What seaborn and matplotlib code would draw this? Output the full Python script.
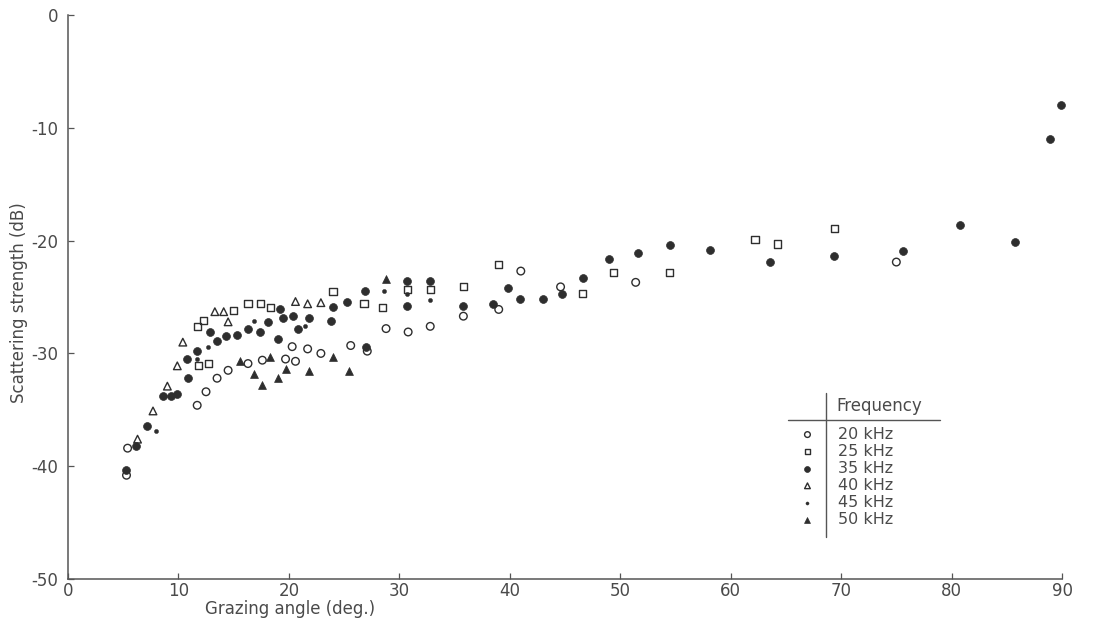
import matplotlib
matplotlib.use("Agg")
import matplotlib.pyplot as plt
from matplotlib.lines import Line2D
import seaborn as sns
import pandas as pd

# ---- data (grazing angle deg, scattering strength dB) ----
f20_x = [5.3, 5.4, 11.7, 12.5, 13.5, 14.5, 16.3, 17.6, 19.7, 20.3, 20.6, 21.7, 22.9,
         25.6, 27.1, 28.8, 30.8, 32.8, 35.8, 39.0, 41.0, 44.6, 51.4, 75.0]
f20_y = [-40.8, -38.4, -34.6, -33.4, -32.2, -31.5, -30.9, -30.6, -30.5, -29.4, -30.7, -29.6, -30.0,
         -29.3, -29.8, -27.8, -28.1, -27.6, -26.7, -26.1, -22.7, -24.1, -23.7, -21.9]

f25_x = [11.7, 12.3, 11.8, 12.7, 15.0, 16.3, 17.4, 18.3, 24.0, 26.8, 28.5, 30.7, 32.8,
         35.8, 39.0, 46.6, 49.4, 54.5, 62.2, 64.2, 69.4]
f25_y = [-27.6, -27.1, -31.1, -30.9, -26.2, -25.6, -25.6, -25.9, -24.5, -25.6, -25.9, -24.3, -24.3,
         -24.1, -22.1, -24.7, -22.8, -22.8, -19.9, -20.3, -18.9]

f35_x = [5.3, 6.2, 7.2, 8.6, 9.3, 9.9, 10.8, 10.9, 11.7, 12.9, 13.5, 14.3, 15.3, 16.3,
         17.4, 18.1, 19.0, 19.2, 19.5, 20.4, 20.8, 21.8, 23.8, 24.0, 25.3, 26.9, 27.0,
         30.7, 30.7, 32.8, 35.8, 38.5, 39.8, 40.9, 43.0, 44.7, 46.6, 49.0, 51.6, 54.5,
         58.1, 63.6, 69.4, 75.6, 80.8, 85.7, 88.9, 89.9]
f35_y = [-40.3, -38.2, -36.4, -33.8, -33.8, -33.6, -30.5, -32.2, -29.8, -28.1, -28.9, -28.5, -28.4, -27.8,
         -28.1, -27.2, -28.7, -26.1, -26.9, -26.7, -27.8, -26.9, -27.1, -25.9, -25.4, -24.5, -29.4,
         -23.6, -25.8, -23.6, -25.8, -25.6, -24.2, -25.2, -25.2, -24.7, -23.3, -21.6, -21.1, -20.4,
         -20.8, -21.9, -21.4, -20.9, -18.6, -20.1, -11.0, -8.0]

f40_x = [6.3, 7.7, 9.0, 9.9, 10.4, 13.3, 14.1, 14.5, 20.6, 21.7, 22.9]
f40_y = [-37.6, -35.1, -32.9, -31.1, -29.0, -26.3, -26.3, -27.2, -25.4, -25.6, -25.5]

f45_x = [8.0, 11.7, 12.7, 16.8, 21.5, 23.9, 28.6, 30.7, 32.8]
f45_y = [-36.9, -30.5, -29.4, -27.1, -27.6, -27.1, -24.5, -24.7, -25.3]

f50_x = [15.6, 16.8, 17.6, 18.3, 19.0, 19.7, 21.8, 24.0, 25.4, 28.8]
f50_y = [-30.7, -31.8, -32.8, -30.3, -32.2, -31.4, -31.6, -30.3, -31.6, -23.4]

labels = ["20 kHz", "25 kHz", "35 kHz", "40 kHz", "45 kHz", "50 kHz"]
xticks = [0, 10, 20, 30, 40, 50, 60, 70, 80, 90]
yticks = [0, -10, -20, -30, -40, -50]

series = [(f20_x, f20_y), (f25_x, f25_y), (f35_x, f35_y),
          (f40_x, f40_y), (f45_x, f45_y), (f50_x, f50_y)]

frames = []
for lab, (xs, ys) in zip(labels, series):
    frames.append(pd.DataFrame({"angle": xs, "ss": ys, "freq": lab}))
df = pd.concat(frames, ignore_index=True)

# ---- styles ----
ink = "#2e2e2e"
txt = "#4a4a4a"
styles = {
    "20 kHz": dict(marker="o", s=30, fc="none", ec=ink, lw=1.0),
    "25 kHz": dict(marker="s", s=26, fc="none", ec=ink, lw=1.0),
    "35 kHz": dict(marker="o", s=32, fc=ink, ec=ink, lw=0.5),
    "40 kHz": dict(marker="^", s=30, fc="none", ec=ink, lw=1.0),
    "45 kHz": dict(marker="o", s=9, fc=ink, ec=ink, lw=0.3),
    "50 kHz": dict(marker="^", s=32, fc=ink, ec=ink, lw=0.5),
}

sns.set_theme(style="white")
plt.rcParams["font.family"] = ["DejaVu Sans"]

fig = plt.figure(figsize=(11.05, 6.23), dpi=100)
ax = fig.add_axes([0.0615, 0.0706, 0.8996, 0.9053])

for lab in labels:
    st = styles[lab]
    sub = df[df["freq"] == lab]
    sns.scatterplot(data=sub, x="angle", y="ss", ax=ax, marker=st["marker"], s=st["s"],
                    facecolor=st["fc"], edgecolor=st["ec"], linewidth=st["lw"],
                    label=lab, clip_on=False, zorder=3)

ax.set_xlim(0, 90)
ax.set_ylim(-50, 0)
ax.set_xticks(xticks)
ax.set_yticks(yticks)
ax.set_xticklabels([str(t) for t in xticks])
ax.set_yticklabels([str(t) for t in yticks])

for side in ["top", "right"]:
    ax.spines[side].set_visible(False)
for side in ["left", "bottom"]:
    ax.spines[side].set_color("#555555")
    ax.spines[side].set_linewidth(1.1)

ax.tick_params(axis="both", direction="in", length=4, width=0.9, color="#555555",
               labelsize=12, labelcolor=txt)
ax.tick_params(axis="x", bottom=True, pad=2)
ax.tick_params(axis="y", left=True, pad=7)

ax.set_xlabel("Grazing angle (deg.)", fontsize=12, color=txt)
ax.set_ylabel("Scattering strength (dB)", fontsize=12, color=txt)
ax.xaxis.set_label_coords(0.223, -0.037)
ax.yaxis.set_label_coords(-0.040, 0.49)

# ---- tabular legend ----
handles, labs = ax.get_legend_handles_labels()
leg = ax.legend(handles, labs, loc="upper left",
                bbox_to_anchor=(0.7235, 0.315), bbox_transform=fig.transFigure,
                frameon=False, fontsize=11.5, handlelength=1.0, handletextpad=1.4,
                labelspacing=0.13, borderpad=0, borderaxespad=0, markerscale=0.75)
for t in leg.get_texts():
    t.set_color(txt)

fig.text(0.7566, 0.348, "Frequency", fontsize=12, color=txt, ha="left", va="center")
fig.add_artist(Line2D([0.7475, 0.7475], [0.369, 0.138], transform=fig.transFigure,
                      color="#555555", lw=1.0))
fig.add_artist(Line2D([0.713, 0.851], [0.3258, 0.3258], transform=fig.transFigure,
                      color="#555555", lw=1.0))

fig.savefig("out.png", dpi=100)
